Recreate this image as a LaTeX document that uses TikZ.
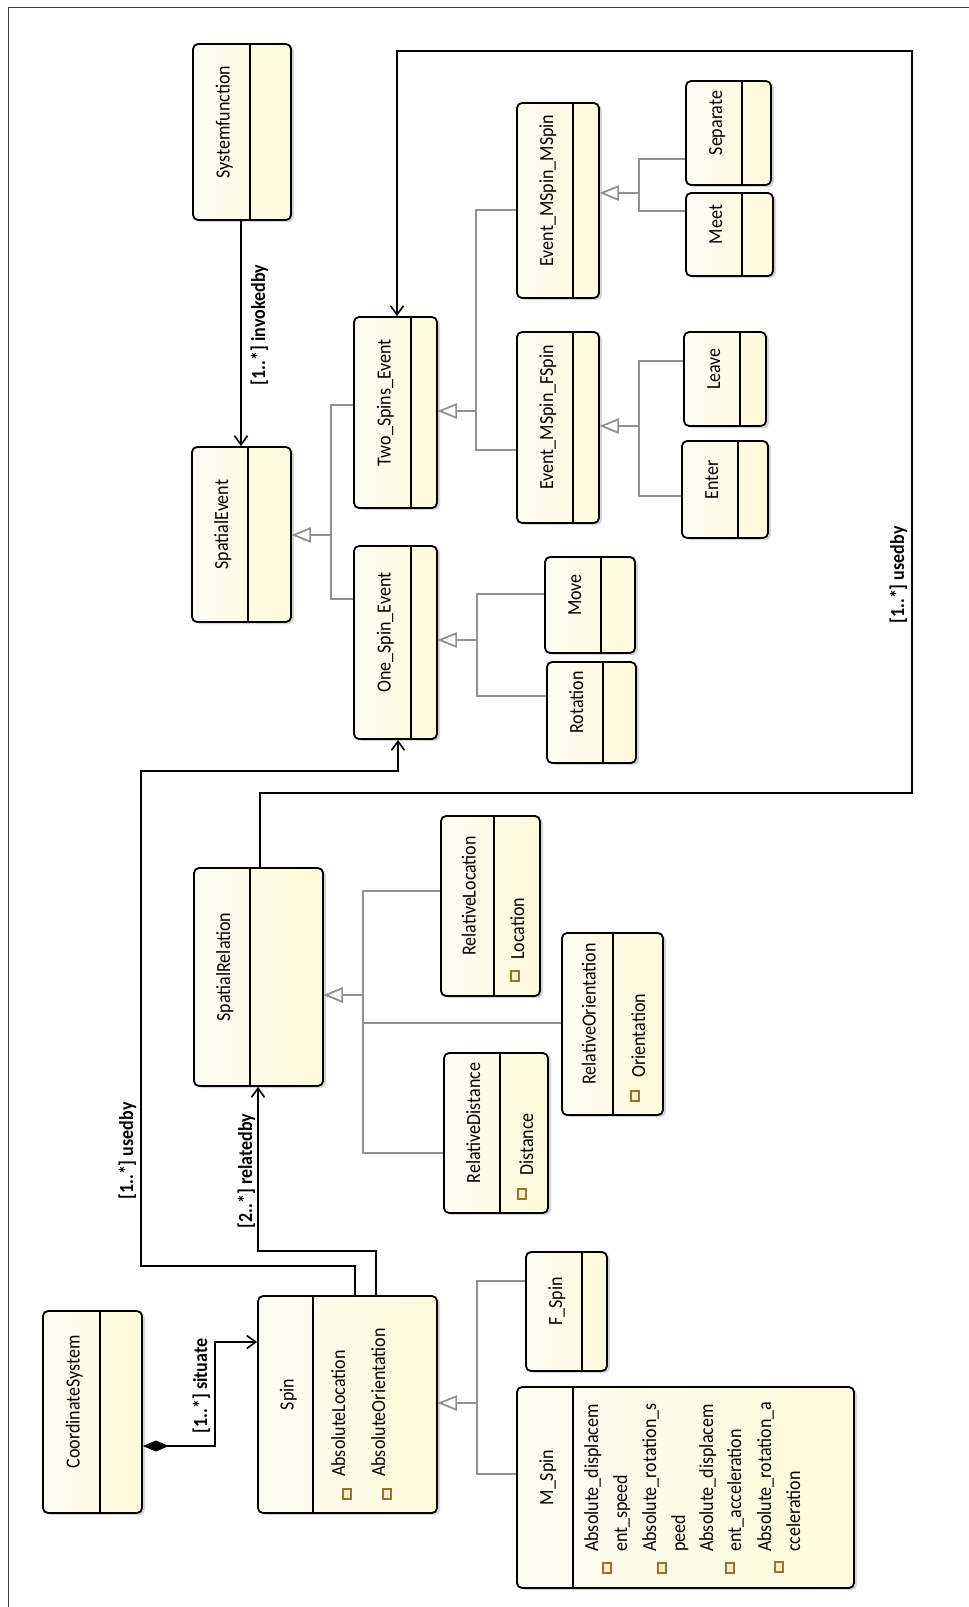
\documentclass[tikz,border=0pt]{standalone}
\usepackage{fontspec}
\setmainfont[FakeStretch=0.9]{Carlito}
\usetikzlibrary{arrows.meta,fit,shadows}
\definecolor{boxA}{RGB}{253,252,243}
\definecolor{boxB}{RGB}{255,250,218}
\definecolor{gengray}{RGB}{145,145,145}
\definecolor{iconbrown}{RGB}{150,118,45}
\definecolor{iconfill}{RGB}{242,238,205}
\newcommand\namefont{\fontsize{20}{23}\selectfont}
\newcommand\lblfont{\fontsize{20}{23}\selectfont\bfseries}
\tikzset{
  clsbox/.style={draw=black, line width=1.8pt, rounded corners=5pt, inner sep=0pt,
    left color=boxA, right color=boxB,
    drop shadow={shadow xshift=3pt, shadow yshift=-2pt, fill=black, opacity=0.16}},
  divline/.style={line width=1.7pt},
  clsname/.style={rotate=90, font=\namefont, inner sep=0pt, text height=14pt, text depth=4pt},
  attrtext/.style={rotate=90, font=\namefont, inner sep=0pt, anchor=base west},
  attricon/.style={draw=iconbrown, fill=iconfill, line width=1.2pt, minimum width=8pt,
    minimum height=10pt, inner sep=0pt},
  assoc/.style={line width=1.6pt, -{Straight Barb[length=9pt,width=13pt]}},
  gen/.style={draw=gengray, line width=1.6pt, -{Triangle[open, length=19pt, width=15pt, fill=white]}},
  lbl/.style={rotate=90, font=\lblfont, inner sep=0pt, text height=14pt, text depth=4pt},
  framel/.style={draw=black!75, line width=1pt}
}
% name, x1, y1, x2, y2, divider x, title
\newcommand\umlcls[7]{%
  \node[clsbox, fit={(#2,#3) (#4,#5)}] (#1) {};
  \draw[divline] (#6,#3) -- (#6,#5);
  \node[clsname] (#1-n) at ({(#2+#6)/2+3},{(#3+#5)/2-10}) {#7};
}
\begin{document}
\begin{tikzpicture}[x=1pt,y=-1pt]
\useasboundingbox (0,0) rectangle (969,1607);
\fill[white] (0,0) rectangle (969,1607);
\draw[framel] (8,1607) -- (8,7) -- (969,7);

% classes
\umlcls{cs}{43}{1311}{142}{1513}{100}{CoordinateSystem}
\umlcls{spin}{258}{1296}{437}{1513}{313}{Spin}
\umlcls{fspin}{526}{1252}{607}{1371}{582}{F\_Spin}
\umlcls{mspin}{517}{1387}{854}{1588}{573}{M\_Spin}
\umlcls{sr}{194}{868}{323}{1086}{250}{SpatialRelation}
\umlcls{rloc}{441}{816}{540}{996}{494}{RelativeLocation}
\umlcls{rori}{562}{933}{663}{1115}{613}{RelativeOrientation}
\umlcls{rdist}{444}{1053}{548}{1213}{500}{RelativeDistance}
\umlcls{se}{192}{447}{291}{622}{248}{SpatialEvent}
\umlcls{sf}{193}{44}{291}{220}{250}{Systemfunction}
\umlcls{tse}{354}{317}{437}{508}{411}{Two\_Spins\_Event}
\umlcls{ose}{354}{546}{437}{739}{411}{One\_Spin\_Event}
\umlcls{emf}{517}{332}{599}{523}{573}{Event\_MSpin\_FSpin}
\umlcls{emm}{517}{103}{599}{298}{573}{Event\_MSpin\_MSpin}
\umlcls{sep}{686}{81}{771}{185}{742}{Separate}
\umlcls{meet}{686}{193}{773}{276}{742}{Meet}
\umlcls{leave}{684}{332}{766}{426}{740}{Leave}
\umlcls{enter}{682}{441}{768}{538}{738}{Enter}
\umlcls{move}{545}{557}{635}{653}{601}{Move}
\umlcls{rot}{547}{662}{636}{763}{603}{Rotation}

% attributes
\node[attrtext] (spin-a1) at (345,1477) {AbsoluteLocation};
\node[attricon] (spin-i1) at (347,1494) {};
\node[attrtext] (spin-a2) at (385,1477) {AbsoluteOrientation};
\node[attricon] (spin-i2) at (387,1494) {};

\node[attrtext] (rloc-a1) at (524,960) {Location};
\node[attricon] (rloc-i1) at (515,976) {};
\node[attrtext] (rori-a1) at (645,1078) {Orientation};
\node[attricon] (rori-i1) at (635,1096) {};
\node[attrtext] (rdist-a1) at (533,1176) {Distance};
\node[attricon] (rdist-i1) at (522,1194) {};

\node[attrtext] (ms-a1a) at (598,1552) {Absolute\_displacem};
\node[attrtext] (ms-a1b) at (627,1552) {ent\_speed};
\node[attricon] (ms-i1) at (607,1568) {};
\node[attrtext] (ms-a2a) at (656,1552) {Absolute\_rotation\_s};
\node[attrtext] (ms-a2b) at (685,1552) {peed};
\node[attricon] (ms-i2) at (662,1568) {};
\node[attrtext] (ms-a3a) at (713,1552) {Absolute\_displacem};
\node[attrtext] (ms-a3b) at (741,1552) {ent\_acceleration};
\node[attricon] (ms-i3) at (730,1568) {};
\node[attrtext] (ms-a4a) at (771,1552) {Absolute\_rotation\_a};
\node[attrtext] (ms-a4b) at (800,1552) {cceleration};
\node[attricon] (ms-i4) at (779,1567) {};

% generalizations
\draw[gen] (fspin.west |- 0,1281) -| (477,1403) -- (spin.east |- 0,1403);
\draw[gen] (mspin.west |- 0,1474) -| (477,1403) -- (spin.east |- 0,1403);
\draw[gen] (rloc.west |- 0,891) -| (363,995) -- (sr.east |- 0,995);
\draw[gen] (rori.west |- 0,1023) -| (363,995) -- (sr.east |- 0,995);
\draw[gen] (rdist.west |- 0,1153) -| (363,995) -- (sr.east |- 0,995);
\draw[gen] (tse.west |- 0,405) -| (331,535) -- (se.east |- 0,535);
\draw[gen] (ose.west |- 0,599) -| (331,535) -- (se.east |- 0,535);
\draw[gen] (emm.west |- 0,210) -| (476,411) -- (tse.east |- 0,411);
\draw[gen] (emf.west |- 0,450) -| (476,411) -- (tse.east |- 0,411);
\draw[gen] (sep.west |- 0,159) -| (639,193) -- (emm.east |- 0,193);
\draw[gen] (meet.west |- 0,211) -| (639,193) -- (emm.east |- 0,193);
\draw[gen] (leave.west |- 0,361) -| (639,426) -- (emf.east |- 0,426);
\draw[gen] (enter.west |- 0,496) -| (639,426) -- (emf.east |- 0,426);
\draw[gen] (move.west |- 0,594) -| (477,640) -- (ose.east |- 0,640);
\draw[gen] (rot.west |- 0,696) -| (477,640) -- (ose.east |- 0,640);

% associations
\draw[assoc, {Diamond[length=26pt,width=11pt]}-{Straight Barb[length=9pt,width=13pt]}]
  (cs.east |- 0,1446) -- (215,1446) |- (spin.west |- 0,1342);
\draw[assoc] (355,0 |- spin.north) |- (141,1266) |- (398,771) -- (398,0 |- ose.south);
\draw[assoc] (376,0 |- spin.north) |- (258,1251) -- (258,0 |- sr.south);
\draw[assoc] (260,0 |- sr.north) |- (912,793) |- (397,51) -- (397,0 |- tse.north);
\draw[assoc] (241,0 |- sf.south) -- (241,0 |- se.north);

% labels
\node[lbl] (l-situate) at (202,1386) {[1..*] situate};
\node[lbl] (l-used1) at (128,1151) {[1..*] usedby};
\node[lbl] (l-related) at (247,1171) {[2..*] relatedby};
\node[lbl] (l-used2) at (899,575) {[1..*] usedby};
\node[lbl] (l-invoked) at (260,325) {[1..*] invokedby};
\end{tikzpicture}
\end{document}
